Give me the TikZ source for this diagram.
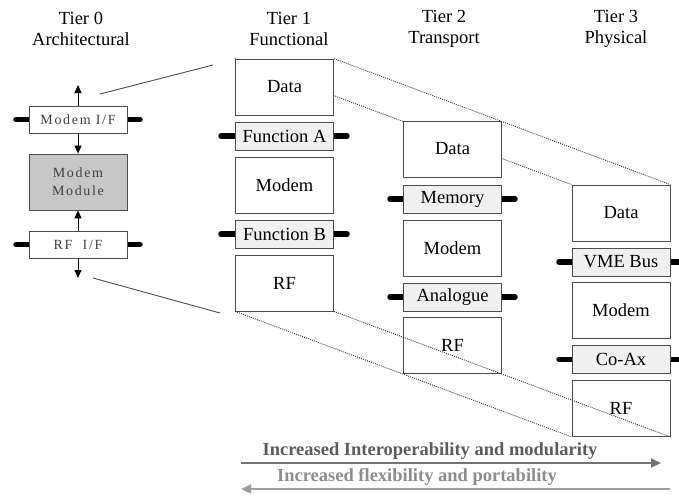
\documentclass[tikz,border=0pt]{standalone}
\usepackage{fontspec}
\setmainfont{Liberation Serif}
\newfontfamily\spacedfont[LetterSpace=12]{Liberation Serif}
\usetikzlibrary{arrows.meta}
\pgfdeclarelayer{background}
\pgfsetlayers{background,main}
\definecolor{edgegray}{gray}{0.30}
\definecolor{ifgray}{gray}{0.94}
\definecolor{modgray}{gray}{0.78}
\definecolor{dotgray}{gray}{0.22}
\definecolor{tzerotext}{gray}{0.25}
\definecolor{arrowdark}{gray}{0.45}
\definecolor{arrowlight}{gray}{0.62}
\definecolor{labeldark}{gray}{0.36}
\definecolor{labellight}{gray}{0.55}
\tikzset{
  box/.style={draw=edgegray, line width=0.8pt, fill=white, minimum width=98pt,
    minimum height=56pt, inner sep=0pt, font=\fontsize{18.5}{21}\selectfont},
  ifbox/.style={box, fill=ifgray, minimum height=28pt},
  tzbox/.style={box, minimum height=27pt, text=tzerotext,
    font=\spacedfont\fontsize{14}{18}\selectfont, align=center},
  title/.style={align=center, inner sep=0pt, font=\fontsize{18.5}{21}\selectfont},
  stub/.style={line width=5.5pt, line cap=round, black},
  dots/.style={draw=dotgray, line width=0.9pt, dash pattern=on 1pt off 1.1pt},
  flow/.style={line width=0.9pt, -{Triangle[length=8pt,width=7pt]}},
  fan/.style={draw=edgegray, line width=0.9pt},
  trend/.style={line width=1.8pt, -{Triangle[length=10pt,width=9pt]}},
  trendlabel/.style={inner sep=0pt, font=\bfseries\fontsize{18.5}{21}\selectfont}
}
\begin{document}
\begin{tikzpicture}[x=1pt,y=-1pt]
\useasboundingbox (0,0) rectangle (679,495);

% column titles
\node[title] (title0) at (81,28.5) {Tier 0\\Architectural};
\node[title] (title1) at (289,28.5) {Tier 1\\Functional};
\node[title] (title2) at (444,28.5) {Tier 2\\Transport};
\node[title] (title3) at (616,28.5) {Tier 3\\Physical};

% tier 0: architectural view
\node[tzbox] (mif) at (78,119.5) {Modem I/F};
\node[tzbox, fill=modgray, minimum height=56pt] (mmod) at (78,182) {Modem\\Module};
\node[tzbox] (rif) at (78,244.5) {RF\ \ I/F};
\coordinate (mifout) at (78,85);
\coordinate (rifout) at (78,278);
\draw[flow] (mif.north) -- (mifout);
\draw[flow] (mif.south) -- (mmod.north);
\draw[flow] (rif.north) -- (mmod.south);
\draw[flow] (rif.south) -- (rifout);

% tier 1: functional
\node[box]   (fdata) at (284.5,87)  {Data};
\node[ifbox] (funa)  at (284.5,136) {Function A};
\node[box]   (fmod)  at (284.5,185) {Modem};
\node[ifbox] (funb)  at (284.5,234) {Function B};
\node[box]   (frf)   at (284.5,283) {RF};

% tier 2: transport
\node[box]   (tdata) at (452.5,149) {Data};
\node[ifbox] (tmem)  at (452.5,199) {Memory};
\node[box]   (tmod)  at (452.5,248) {Modem};
\node[ifbox] (tana)  at (452.5,297) {Analogue};
\node[box]   (trf)   at (452.5,345) {RF};

% tier 3: physical
\node[box]   (pdata) at (621,213)   {Data};
\node[ifbox] (pvme)  at (621,262)   {VME Bus};
\node[box]   (pmod)  at (621,310.5) {Modem};
\node[ifbox] (pcoax) at (621,359.5) {Co-Ax};
\node[box]   (prf)   at (621,408.5) {RF};

% interface stubs and the upper fan lines sit behind the boxes
\coordinate (mifl) at (16,119.5);  \coordinate (mifr) at (140,119.5);
\coordinate (rifl) at (16,244.5);  \coordinate (rifr) at (140,244.5);
\coordinate (funal) at (221,136);  \coordinate (funar) at (347,136);
\coordinate (funbl) at (221,234);  \coordinate (funbr) at (347,234);
\coordinate (tmeml) at (390,199);  \coordinate (tmemr) at (515,199);
\coordinate (tanal) at (390,297);  \coordinate (tanar) at (515,297);
\coordinate (pvmel) at (559,262);  \coordinate (pvmer) at (690,262);
\coordinate (pcoaxl) at (559,359.5); \coordinate (pcoaxr) at (690,359.5);
\begin{pgfonlayer}{background}
  \draw[stub] (mifl) -- (mif.center) -- (mifr);
  \draw[stub] (rifl) -- (rif.center) -- (rifr);
  \draw[stub] (funal) -- (funa.center) -- (funar);
  \draw[stub] (funbl) -- (funb.center) -- (funbr);
  \draw[stub] (tmeml) -- (tmem.center) -- (tmemr);
  \draw[stub] (tanal) -- (tana.center) -- (tanar);
  \draw[stub] (pvmel) -- (pvme.center) -- (pvmer);
  \draw[stub] (pcoaxl) -- (pcoax.center) -- (pcoaxr);
  \draw[dots] (fdata.north east) -- (pdata.north east);
  \draw[dots] (fdata.north west) -- (pdata.north west);
\end{pgfonlayer}

% lower fan lines run over the boxes
\draw[dots] (frf.south east) -- (prf.south east);
\draw[dots] (frf.south west) -- (prf.south west);

% zoom lines from the architectural view into tier 1
\coordinate (zoomtopa) at (100,94);  \coordinate (zoomtopb) at (213,65);
\coordinate (zoombota) at (93,278);  \coordinate (zoombotb) at (220,313);
\draw[fan] (zoomtopa) -- (zoomtopb);
\draw[fan] (zoombota) -- (zoombotb);

% trend arrows along the bottom
\node[trendlabel, text=labeldark] (uplabel) at (430,451) {Increased Interoperability and modularity};
\node[trendlabel, text=labellight] (downlabel) at (417,477) {Increased flexibility and portability};
\coordinate (upstart) at (241,463);  \coordinate (upend) at (661,463);
\coordinate (downstart) at (670,489); \coordinate (downend) at (241,489);
\draw[trend, arrowdark] (upstart) -- (upend);
\draw[trend, arrowlight] (downstart) -- (downend);
\end{tikzpicture}
\end{document}
